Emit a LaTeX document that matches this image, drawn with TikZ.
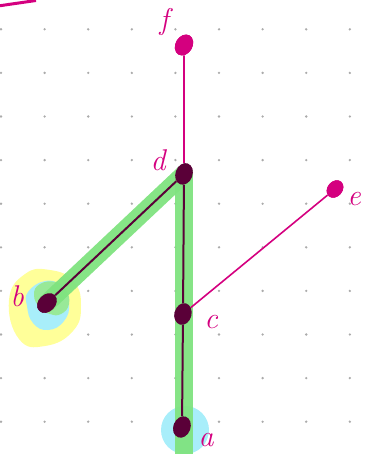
\documentclass[tikz,border=0pt]{standalone}
\usetikzlibrary{shapes.geometric}
\definecolor{mag}{HTML}{D4007F}
\definecolor{dark}{HTML}{5A0038}
\definecolor{hlgreen}{HTML}{7FE37F}
\definecolor{hlcyan}{HTML}{A8EEFA}
\definecolor{hlyellow}{HTML}{FFFF99}
\definecolor{griddot}{HTML}{ABABAB}
\tikzset{
  vtx/.style={ellipse, inner sep=0pt, minimum width=17pt, minimum height=22pt},
  magvtx/.style={vtx, fill=mag},
  darkvtx/.style={vtx, fill=dark},
  lbl/.style={text=mag, font=\fontsize{30}{30}\selectfont\itshape, inner sep=0pt},
  magline/.style={draw=mag, line width=1.6pt},
  darkline/.style={draw=dark, line width=2pt},
  hl/.style={draw=hlgreen, line width=18pt, line join=round, opacity=0.95},
}
\begin{document}
\begin{tikzpicture}[x=1pt,y=-1pt]
\useasboundingbox (0,0) rectangle (367,454);
% grid dots
\foreach \i in {0,...,8}{
  \foreach \j in {0,...,9}{
    \fill[griddot] ({1+43.6*\i},{29.3+43.6*\j}) circle (1.3pt);
  }
}
% stray stroke top-left
\draw[mag, line width=3pt] (-2,6) -- (36,0.5);
% highlight blobs at b
\fill[hlyellow] plot[smooth cycle, tension=0.8] coordinates {(9,300) (25,274) (50,270) (73,281) (81,305) (73,331) (45,346) (19,339)};
\fill[hlcyan] plot[smooth cycle, tension=0.8] coordinates {(28,292) (45,281) (61,286) (69,303) (64,321) (48,330) (33,323) (27,306)};
\fill[hlgreen!80!white] plot[smooth cycle, tension=0.8] coordinates {(40,284) (56,282) (66,290) (69,304) (61,314) (50,314) (40,308) (34,295)};
% highlight at a
\fill[hlcyan] (185,430) circle (24pt);
% coordinates
\coordinate (bottom) at (184,462);
% vertices
\node[magvtx, rotate=-30] (f) at (184,45) {};
\node[darkvtx, rotate=-20] (d) at (184,174) {};
\node[magvtx, rotate=-40, minimum width=15pt, minimum height=19pt] (e) at (335,189) {};
\node[darkvtx, rotate=-45] (b) at (47,303) {};
\node[darkvtx, rotate=-15] (c) at (183,314) {};
\node[darkvtx, rotate=-20] (a) at (182,427) {};
% green highlight path
\draw[hl, line cap=round] (b.center) -- (d.center);
\draw[hl, line cap=round] (d.center) -- (bottom);
% edges
\draw[magline] (f) -- (d);
\draw[magline] (c) -- (e);
\draw[darkline] (d) -- (c);
\draw[darkline] (c) -- (a);
\draw[darkline] (d) -- (b);
% redraw vertices on top
\node[magvtx, rotate=-30] at (f) {};
\node[darkvtx, rotate=-20] at (d) {};
\node[magvtx, rotate=-40, minimum width=15pt, minimum height=19pt] at (e) {};
\node[darkvtx, rotate=-45] at (b) {};
\node[darkvtx, rotate=-15] at (c) {};
\node[darkvtx, rotate=-20] at (a) {};
% labels
\node[lbl] (lf) at (164,22) {f};
\node[lbl] (ld) at (158,160) {d};
\node[lbl] (le) at (354,199) {e};
\node[lbl] (lb) at (17,296) {b};
\node[lbl] (lc) at (211,322) {c};
\node[lbl] (la) at (206,440) {a};
\end{tikzpicture}
\end{document}
